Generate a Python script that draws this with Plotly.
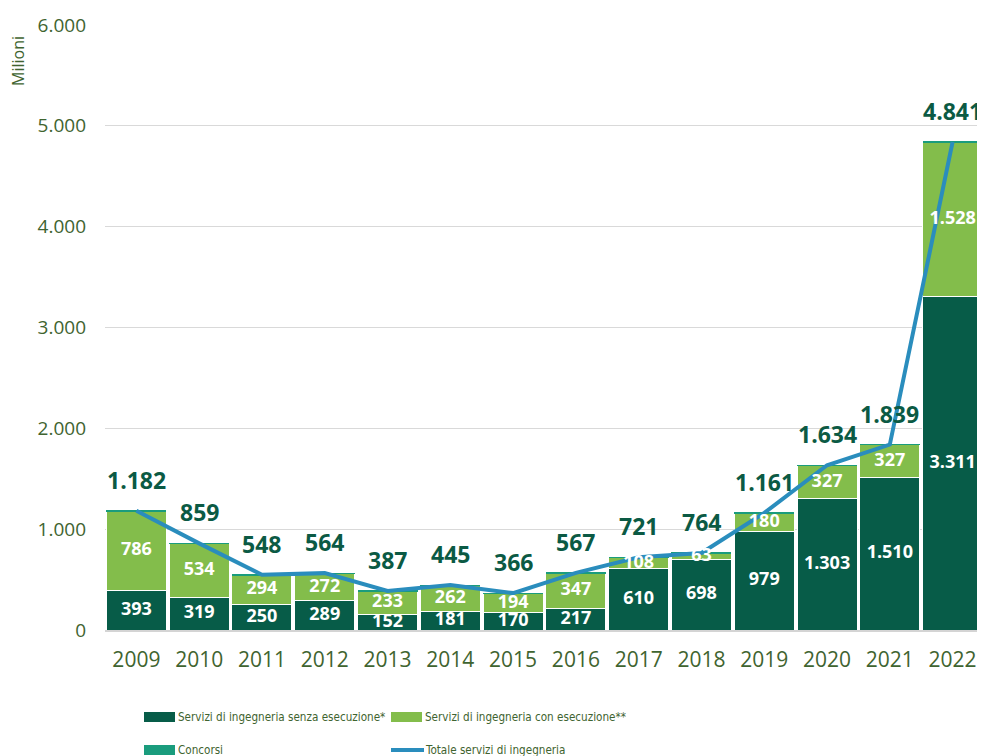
import plotly.graph_objects as go

years = list(range(2009, 2023))
year_labels = [str(y) for y in years]
senza = [393, 319, 250, 289, 152, 181, 170, 217, 610, 698, 979, 1303, 1510, 3311]
con = [786, 534, 294, 272, 233, 262, 194, 347, 108, 63, 180, 327, 327, 1528]
concorsi = [3, 6, 4, 3, 2, 2, 2, 3, 3, 3, 2, 4, 2, 2]
totale = [1182, 859, 548, 564, 387, 445, 366, 567, 721, 764, 1161, 1634, 1839, 4841]

y_ticks = [0, 1000, 2000, 3000, 4000, 5000, 6000]

C_DARK = "#075c48"
C_LIGHT = "#83bd4b"
C_TEAL = "#1a9c7d"
C_LINE = "#2a8dbd"
C_TEXT = "#3f6430"
C_LABEL = "#0b5a44"
FONT = "Open Sans, Roboto, Arial, sans-serif"


def fmt(v):
    return f"{v:,}".replace(",", ".")


fig = go.Figure()
fig.add_bar(x=years, y=senza, name="Servizi di ingegneria senza esecuzione*",
            marker=dict(color=C_DARK, line=dict(color="white", width=1)))
fig.add_bar(x=years, y=con, name="Servizi di ingegneria con esecuzione**",
            marker=dict(color=C_LIGHT, line=dict(color="white", width=1)))
fig.add_bar(x=years, y=concorsi, name="Concorsi",
            marker=dict(color=C_TEAL, line=dict(color="white", width=0)))
fig.add_scatter(x=years, y=totale, mode="lines", name="Totale servizi di ingegneria",
                line=dict(color=C_LINE, width=4))

# inside labels
fig.add_scatter(x=years, y=[s / 2 for s in senza], mode="text",
                text=[fmt(v) for v in senza],
                textfont=dict(color="white", size=18, family=FONT, weight="bold"),
                hoverinfo="skip")
fig.add_scatter(x=years, y=[s + c / 2 for s, c in zip(senza, con)], mode="text",
                text=[fmt(v) for v in con],
                textfont=dict(color="white", size=18, family=FONT, weight="bold"),
                hoverinfo="skip")

# total labels
for x, t in zip(years, totale):
    fig.add_annotation(x=x, y=t, text=f"<b>{fmt(t)}</b>", showarrow=False,
                       yshift=31, font=dict(color=C_LABEL, size=23, family=FONT))

# page is offset by 8px body margin
OFF = 8
W, H = 985 - OFF, 756 - OFF
L, R, T, B = 105 - OFF, 1, 25 - OFF, 126
pw, ph = W - L - R, H - T - B


def px(xpage):
    return (xpage - OFF - L) / pw


def py(ypage):
    return (H - B - (ypage - OFF)) / ph


# Manual legend
legend_items = [
    ("rect", C_DARK, 144, 717, "Servizi di ingegneria senza esecuzione*"),
    ("rect", C_LIGHT, 391, 717, "Servizi di ingegneria con esecuzione**"),
    ("rect", C_TEAL, 144, 750, "Concorsi"),
    ("line", C_LINE, 391, 750, "Totale servizi di ingegneria"),
]
for kind, col, x0, yc, label in legend_items:
    if kind == "rect":
        fig.add_shape(type="rect", xref="paper", yref="paper",
                      x0=px(x0), x1=px(x0 + 31), y0=py(yc - 5), y1=py(yc + 5),
                      fillcolor=col, line=dict(width=0))
    else:
        fig.add_shape(type="line", xref="paper", yref="paper",
                      x0=px(x0), x1=px(x0 + 33), y0=py(yc), y1=py(yc),
                      line=dict(color=col, width=4))
    fig.add_annotation(xref="paper", yref="paper", x=px(x0 + 32), y=py(yc),
                       xanchor="left", yanchor="middle", showarrow=False,
                       text=label,
                       font=dict(color=C_TEXT, size=11.6,
                                 family="DejaVu Sans Condensed, Roboto, sans-serif"))

fig.add_annotation(xref="paper", yref="paper", x=px(18), y=py(61),
                   xanchor="center", yanchor="middle",
                   text="Milioni", textangle=-90, showarrow=False,
                   font=dict(color=C_TEXT, size=16, family=FONT))

fig.update_layout(
    width=W, height=H,
    margin=dict(l=L, r=R, t=T, b=B),
    barmode="stack", bargap=0.045,
    plot_bgcolor="white", paper_bgcolor="white",
    showlegend=False,
    separators=",.",
    font=dict(family=FONT, color=C_TEXT),
)
fig.update_yaxes(range=[0, 6000], tickvals=y_ticks, ticktext=[fmt(v) for v in y_ticks],
                 showgrid=True, gridcolor="#d9d9d9", gridwidth=1, zeroline=False,
                 ticks="", ticklabelstandoff=18, tickfont=dict(size=19, color=C_TEXT))
fig.update_xaxes(range=[years[0] - 0.5, years[-1] + 0.5], tickvals=years, ticktext=year_labels,
                 showgrid=False, zeroline=False,
                 showline=True, linecolor="#d4d4d4", linewidth=2, ticks="",
                 ticklabelstandoff=10, tickfont=dict(size=21, color=C_TEXT))

fig.write_html("out.html")
